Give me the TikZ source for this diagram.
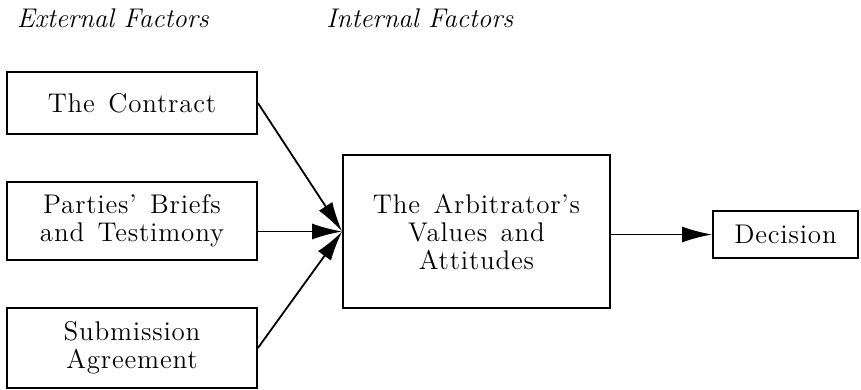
\documentclass[tikz,border=0pt]{standalone}
\usepackage{fontspec}
\usepackage{tikz}
\usetikzlibrary{arrows.meta,positioning}
\newfontfamily\boxfont{Latin Modern Roman}[Ligatures=TeX,LetterSpace=3,WordSpace=1.4]

\tikzset{
    factor/.style={draw, line width=0.9pt, align=center, inner sep=2pt, font=\boxfont},
    flow/.style={-{Latex[length=15pt,width=8pt]}, line width=0.9pt}
}

\begin{document}
\begin{tikzpicture}[x=0.5pt,y=-0.5pt]
    \useasboundingbox (0,0) rectangle (861,390);
    \fontsize{13.5}{14}\selectfont

    % Headers
    \node (ext) at (113,18) {\textit{External Factors}};
    \node (int) at (420,18) {\textit{Internal Factors}};

    % External
    \node[factor, minimum width=125pt, minimum height=31pt] (contract) at (132,103) {The Contract};
    \node[factor, minimum width=125pt, minimum height=39pt] (briefs) at (132,221) {Parties' Briefs\\and Testimony};
    \node[factor, minimum width=125pt, minimum height=40pt] (submission) at (132,348) {Submission\\Agreement};

    % Internal
    \node[factor, minimum width=133.5pt, minimum height=76.5pt] (arbitrator) at (476.5,231.5) {The Arbitrator's\\Values and\\Attitudes};
    \node[factor, minimum width=72.5pt, minimum height=23.5pt] (decision) at (785.5,234.5) {Decision};

    \draw[flow] (contract.east) -- (arbitrator.west);
    \draw[flow] (briefs.east |- arbitrator.west) -- (arbitrator.west);
    \draw[flow] (submission.east) -- (arbitrator.west);
    \draw[flow] (arbitrator.east |- decision.west) -- (decision.west);
\end{tikzpicture}
\end{document}
